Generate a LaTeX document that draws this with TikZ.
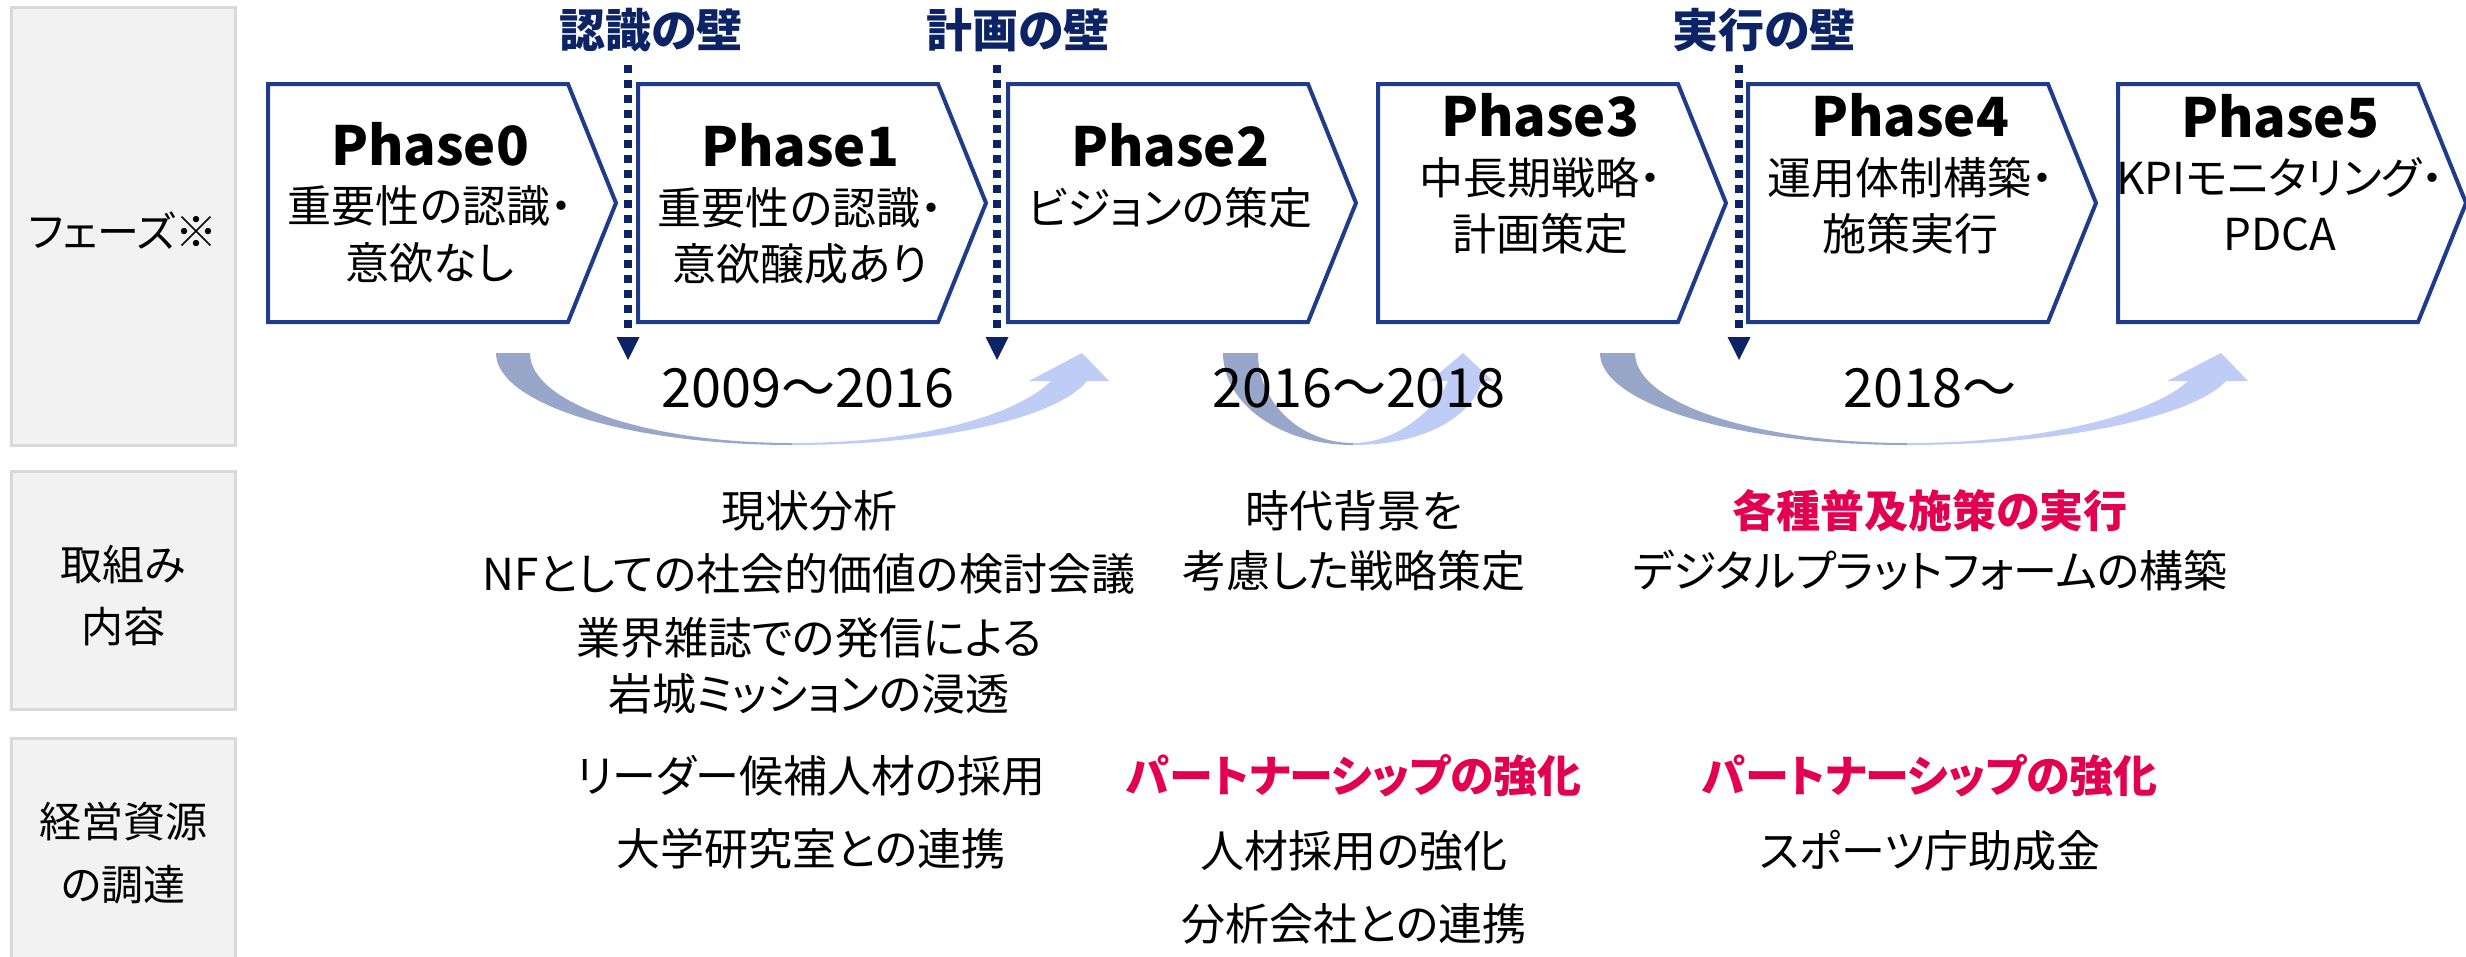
\documentclass[tikz,border=0pt]{standalone}
\usepackage{fontspec}
\setmainfont{Noto Sans CJK JP}[RawFeature={+palt}]
\definecolor{chev}{HTML}{1F3C8C}
\definecolor{navy}{HTML}{0C2366}
\definecolor{mag}{HTML}{E2004F}
\definecolor{arrdark}{HTML}{98A6C9}
\definecolor{arrlight}{HTML}{BFCDF6}
\definecolor{boxfill}{HTML}{F2F2F2}
\definecolor{boxline}{HTML}{D9D9D9}
\tikzset{
  txt/.style={font=\fontsize{44}{52}\selectfont, anchor=base, inner sep=0pt},
  lbl/.style={font=\fontsize{42}{50}\selectfont, anchor=base, inner sep=0pt},
  ttl/.style={font=\fontsize{54}{60}\selectfont\bfseries, anchor=base, inner sep=0pt},
  yr/.style={font=\fontsize{54}{60}\selectfont, anchor=base, inner sep=0pt},
  hl/.style={font=\fontsize{44}{52}\selectfont\bfseries, text=mag, anchor=base, inner sep=0pt},
  wall/.style={font=\fontsize{46}{54}\selectfont\bfseries, text=navy, anchor=base, inner sep=0pt},
  chevline/.style={draw=chev, line width=4pt, fill=white, line join=miter},
  graybox/.style={draw=boxline, fill=boxfill, line width=3pt},
  wallline/.style={draw=navy, line width=8pt, dash pattern=on 8pt off 7pt},
  wallhead/.style={fill=navy, draw=none},
}
\begin{document}
\begin{tikzpicture}[x=1pt,y=-1pt]
\useasboundingbox (0,0) rectangle (2466,956);

% left gray boxes
\draw[graybox] (11,7) rectangle (235,445);
\draw[graybox] (11,471) rectangle (235,709);
\draw[graybox] (11,738) rectangle (235,964);
\node[lbl] (lab1) at (123,247) {フェーズ※};
\node[lbl] (lab2a) at (123,580) {取組み};
\node[lbl] (lab2b) at (123,642) {内容};
\node[lbl] (lab3a) at (123,837) {経営資源};
\node[lbl] (lab3b) at (123,900) {の調達};

% chevrons
\foreach \l in {268,638,1008,1378,1748,2118}{
  \draw[chevline] (\l,84) -- (\l+300,84) -- (\l+348,203) -- (\l+300,322) -- (\l,322) -- cycle;
}

% phase texts
\node[ttl] (p0t) at (430,165) {Phase0};
\node[txt] (p0a) at (430,222) {重要性の認識・};
\node[txt] (p0b) at (430,279) {意欲なし};
\node[ttl] (p1t) at (800,166) {Phase1};
\node[txt] (p1a) at (800,224) {重要性の認識・};
\node[txt] (p1b) at (800,280) {意欲醸成あり};
\node[ttl] (p2t) at (1170,166) {Phase2};
\node[txt] (p2a) at (1170,224) {ビジョンの策定};
\node[ttl] (p3t) at (1540,136) {Phase3};
\node[txt] (p3a) at (1540,194) {中長期戦略・};
\node[txt] (p3b) at (1540,250) {計画策定};
\node[ttl] (p4t) at (1910,136) {Phase4};
\node[txt] (p4a) at (1910,194) {運用体制構築・};
\node[txt] (p4b) at (1910,250) {施策実行};
\node[ttl] (p5t) at (2280,137) {Phase5};
\node[txt] (p5a) at (2280,194) {KPIモニタリング・};
\node[txt] (p5b) at (2280,250) {PDCA};

% walls
\foreach \n/\x/\t/\lx in {w1/628/認識の壁/651, w2/997/計画の壁/1018, w3/1739/実行の壁/1764}{
  \coordinate (\n top) at (\x,65);
  \coordinate (\n end) at (\x,331);
  \coordinate (\n tip) at (\x,360);
  \draw[wallline] (\n top) -- (\n end);
  \fill[wallhead] (\x-11.5,337) -- (\x+11.5,337) -- (\n tip) -- cycle;
  \node[wall] (\n lab) at (\lx,47) {\t};
}

% curved arrows
% arrow 1
\fill[arrdark] (496,353) -- (530,353) .. controls (530,403) and (647,443) .. (792,443)
  -- (792,445) .. controls (629,445) and (496,404) .. (496,353) -- cycle;
\fill[arrlight] (792,445) .. controls (950,445) and (1060,415) .. (1087,381)
  -- (1051,381) .. controls (1020,412) and (930,443) .. (792,443) -- cycle;
\fill[arrlight] (1029,381) -- (1082,353) -- (1109,381) -- cycle;
% arrow 2
\fill[arrdark] (1223,353) -- (1258,353) .. controls (1258,403) and (1301,443) .. (1353,443)
  -- (1353,445) .. controls (1281,445) and (1223,404) .. (1223,353) -- cycle;
\fill[arrlight] (1353,445) .. controls (1420,445) and (1470,420) .. (1482,381)
  -- (1448,381) .. controls (1438,405) and (1400,443) .. (1353,443) -- cycle;
\fill[arrlight] (1430,381) -- (1463,353) -- (1493,381) -- cycle;
% arrow 3
\fill[arrdark] (1600,353) -- (1635,353) .. controls (1635,403) and (1757,443) .. (1907,443)
  -- (1907,445) .. controls (1738,445) and (1600,404) .. (1600,353) -- cycle;
\fill[arrlight] (1907,445) .. controls (2070,445) and (2195,415) .. (2226,381)
  -- (2188,381) .. controls (2155,412) and (2050,443) .. (1907,443) -- cycle;
\fill[arrlight] (2167,381) -- (2221,353) -- (2248,381) -- cycle;

% years
\node[yr] (y1) at (808,407) {2009～2016};
\node[yr] (y2) at (1359,407) {2016～2018};
\node[yr] (y3) at (1930,407) {2018～};

% row 2
\node[txt] (r2a1) at (809,527) {現状分析};
\node[txt] (r2a2) at (809,590) {NFとしての社会的価値の検討会議};
\node[txt] (r2a3) at (809,654) {業界雑誌での発信による};
\node[txt] (r2a4) at (809,710) {岩城ミッションの浸透};
\node[txt] (r2b1) at (1354,527) {時代背景を};
\node[txt] (r2b2) at (1354,587) {考慮した戦略策定};
\node[hl]  (r2c1) at (1930,527) {各種普及施策の実行};
\node[txt] (r2c2) at (1930,587) {デジタルプラットフォームの構築};

% row 3
\node[txt] (r3a1) at (811,792) {リーダー候補人材の採用};
\node[txt] (r3a2) at (811,865) {大学研究室との連携};
\node[hl]  (r3b1) at (1354,792) {パートナーシップの強化};
\node[txt] (r3b2) at (1354,867) {人材採用の強化};
\node[txt] (r3b3) at (1354,940) {分析会社との連携};
\node[hl]  (r3c1) at (1930,792) {パートナーシップの強化};
\node[txt] (r3c2) at (1930,867) {スポーツ庁助成金};
\end{tikzpicture}
\end{document}
